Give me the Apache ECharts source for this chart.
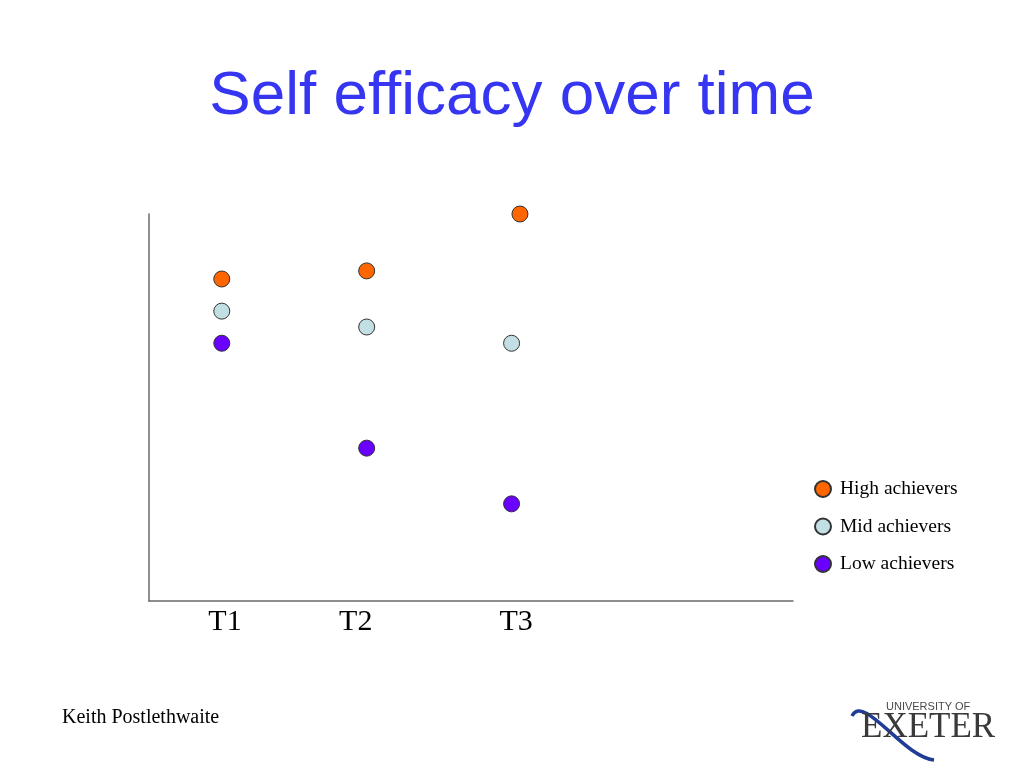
<!DOCTYPE html>
<html><head><meta charset="utf-8">
<script src="https://cdn.jsdelivr.net/npm/echarts@6/dist/echarts.min.js"></script>
<style>html,body{margin:0;padding:0;background:#fff}#c{width:1024px;height:768px}</style>
</head><body><div id="c"></div>
<script>
// Data
var timeLabels = ['T1', 'T2', 'T3'];
var timeLabelPos = [11.8, 32.1, 57.0];
var highX = [11.3, 33.8, 57.6];
var highY = [83.2, 85.3, 100];
var midX = [11.3, 33.8, 56.3];
var midY = [74.9, 70.8, 66.6];
var lowX = [11.3, 33.8, 56.3];
var lowY = [66.6, 39.5, 25.1];
var seriesNames = ['High achievers', 'Mid achievers', 'Low achievers'];
var seriesColors = ['#ff6600', '#c2e0e4', '#6a00ff'];

function pairs(xs, ys) { return xs.map(function (x, i) { return [x, ys[i]]; }); }

var chart = echarts.init(document.getElementById('c'));
var serif = '"Liberation Serif", "Times New Roman", serif';
var sans = '"Liberation Sans", Arial, sans-serif';

function mk(i, xs, ys) {
  return {
    name: seriesNames[i], type: 'scatter', symbol: 'circle', symbolSize: 16,
    clip: false,
    itemStyle: { color: seriesColors[i], borderColor: '#333', borderWidth: 1, opacity: 1 },
    data: pairs(xs, ys)
  };
}

chart.setOption({
  animation: false,
  backgroundColor: '#fff',
  title: {
    text: 'Self efficacy over time', left: 'center', top: 66, padding: 0,
    textStyle: { fontFamily: sans, fontSize: 62, fontWeight: 'normal', color: '#3535f2' }
  },
  grid: { left: 149, right: 231, top: 214, bottom: 167 },
  xAxis: {
    type: 'value', min: 0, max: 100,
    axisLine: { show: true, lineStyle: { color: '#6a6a6a', width: 1.5 } },
    axisTick: { show: false }, splitLine: { show: false },
    axisLabel: {
      customValues: timeLabelPos,
      formatter: function (v) { var i = timeLabelPos.indexOf(v); return i >= 0 ? timeLabels[i] : ''; },
      fontFamily: serif, fontSize: 30, color: '#000', margin: 6
    }
  },
  yAxis: {
    type: 'value', min: 0, max: 100,
    axisLine: { show: true, lineStyle: { color: '#6a6a6a', width: 1.5 } },
    axisTick: { show: false }, splitLine: { show: false }, axisLabel: { show: false }
  },
  legend: {
    orient: 'vertical', left: 814, top: 479, icon: 'circle', padding: 0,
    itemWidth: 16, itemHeight: 16, itemGap: 17.5,
    data: seriesNames,
    textStyle: { fontFamily: serif, fontSize: 19.5, color: '#000', padding: [0, 0, 0, 4] }
  },
  series: [mk(0, highX, highY), mk(1, midX, midY), mk(2, lowX, lowY)],
  graphic: [
    { type: 'text', left: 62, top: 708, style: { text: 'Keith Postlethwaite', font: '20px ' + serif, fill: '#000' } },
    { type: 'bezierCurve', shape: { x1: 852, y1: 716, cpx1: 864, cpy1: 693, cpx2: 903, cpy2: 757, x2: 934, y2: 760 },
      style: { stroke: '#1f3c96', lineWidth: 3.5, fill: null } },
    { type: 'text', left: 886, top: 701, style: { text: 'UNIVERSITY OF', font: '11px ' + sans, fill: '#4a4a4a' } },
    { type: 'text', left: 861, top: 710, style: { text: 'EXETER', font: '35px ' + serif, fill: '#3a3a3a' } }
  ]
});
</script></body></html>
